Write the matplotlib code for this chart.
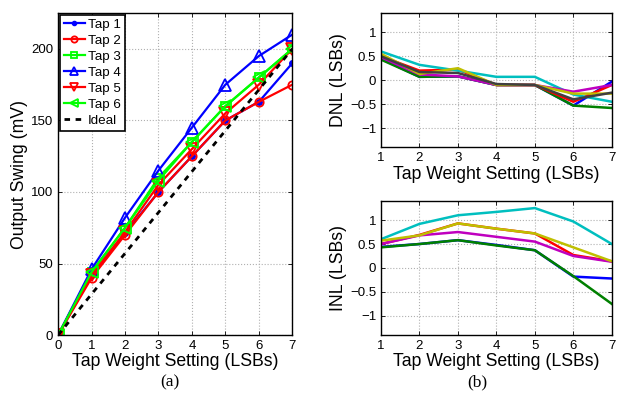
import matplotlib
matplotlib.use("Agg")
import matplotlib.pyplot as plt
import numpy as np

plt.rcParams['font.family'] = ['Liberation Sans', 'DejaVu Sans']
plt.rcParams['axes.unicode_minus'] = True

# Output swing vs tap weight setting (panel a)
taps = [0, 1, 2, 3, 4, 5, 6, 7]
tap1 = [0, 42, 71, 100, 125, 150, 163, 190]
tap2 = [0, 40, 70, 100, 125, 150, 163, 175]
tap3 = [0, 44, 75, 110, 135, 160, 180, 200]
tap4 = [0, 46, 82, 115, 145, 175, 195, 210]
tap5 = [0, 42, 72, 105, 130, 155, 175, 200]
tap6 = [0, 44, 75, 108, 135, 160, 180, 200]
ideal = [0, 28.6, 57.1, 85.7, 114.3, 142.9, 171.4, 200]

# DNL / INL (panel b)
settings = [1, 2, 3, 4, 5, 6, 7]
dnl = [
    [0.45, 0.07, 0.08, -0.10, -0.10, -0.53, -0.03],   # blue
    [0.43, 0.07, 0.08, -0.10, -0.10, -0.53, -0.58],   # green
    [0.50, 0.20, 0.22, -0.10, -0.10, -0.45, -0.10],   # red
    [0.60, 0.32, 0.20, 0.07, 0.07, -0.30, -0.45],     # cyan
    [0.48, 0.12, 0.08, -0.10, -0.10, -0.24, -0.10],   # magenta
    [0.55, 0.13, 0.25, -0.10, -0.10, -0.28, -0.28],   # yellow
    [0.50, 0.17, 0.15, -0.08, -0.10, -0.40, -0.26],   # gray
]
inl = [
    [0.44, 0.50, 0.58, 0.48, 0.37, -0.18, -0.22],     # blue
    [0.43, 0.50, 0.58, 0.47, 0.37, -0.17, -0.75],     # green
    [0.50, 0.69, 0.93, 0.82, 0.72, 0.27, 0.14],       # red
    [0.60, 0.92, 1.10, 1.17, 1.25, 0.97, 0.50],       # cyan
    [0.50, 0.68, 0.75, 0.65, 0.55, 0.25, 0.13],       # magenta
    [0.57, 0.68, 0.93, 0.82, 0.72, 0.43, 0.14],       # yellow
]
line_colors = [(0, 0, 1), (0, 0.5, 0), (1, 0, 0), (0, 0.75, 0.75),
               (0.75, 0, 0.75), (0.75, 0.75, 0), (0.25, 0.25, 0.25)]

fig = plt.figure(figsize=(6.18, 3.97), dpi=100)
label_size = 12.7


def style_axes(ax):
    ax.grid(True, linestyle=':', color='#b0b0b0', linewidth=0.8)
    ax.tick_params(direction='in', top=True, right=True, labelsize=9.5,
                   length=3, width=0.6)
    for s in ax.spines.values():
        s.set_linewidth(1.0)


# Panel (a)
ax1 = fig.add_axes([0.094, 0.156, 0.379, 0.811])
lw = 1.6
ax1.plot(taps, tap1, '-', color='b', marker='.', markersize=8, lw=lw, label='Tap 1')
ax1.plot(taps, tap2, '-', color='r', marker='o', mfc='none', markersize=6, mew=1.3, lw=lw, label='Tap 2')
ax1.plot(taps, tap3, '-', color=(0, 1, 0), marker='s', mfc='none', markersize=6, mew=1.3, lw=lw, label='Tap 3')
ax1.plot(taps, tap4, '-', color='b', marker='^', mfc='none', markersize=8, mew=1.3, lw=lw, label='Tap 4')
ax1.plot(taps, tap5, '-', color='r', marker='v', mfc='none', markersize=8, mew=1.3, lw=lw, label='Tap 5')
ax1.plot(taps, tap6, '-', color=(0, 1, 0), marker='<', mfc='none', markersize=8, mew=1.3, lw=lw, label='Tap 6')
ax1.plot(taps, ideal, '--', color='k', lw=2, dashes=(2, 2), label='Ideal')
ax1.set_xlim(0, 7)
ax1.set_ylim(0, 225)
ax1.set_xticks(taps)
ax1.set_yticks([0, 50, 100, 150, 200])
style_axes(ax1)
ax1.set_xlabel('Tap Weight Setting (LSBs)', fontsize=label_size, labelpad=1)
ax1.set_ylabel('Output Swing (mV)', fontsize=label_size, labelpad=2)
leg = ax1.legend(loc='upper left', fontsize=9.6, fancybox=False, edgecolor='k',
                 framealpha=1, handlelength=1.6, handletextpad=0.2,
                 borderaxespad=0.12, labelspacing=0.27, borderpad=0.3,
                 markerscale=0.75)
leg.get_frame().set_linewidth(1.2)

# Panel (b) top: DNL
ax2 = fig.add_axes([0.6165, 0.629, 0.3735, 0.338])
for row, c in zip(dnl, line_colors):
    ax2.plot(settings, row, color=c, lw=1.8)
ax2.set_xlim(1, 7)
ax2.set_ylim(-1.4, 1.4)
ax2.set_xticks(settings)
ax2.set_yticks([-1, -0.5, 0, 0.5, 1])
ax2.set_yticklabels(['\u22121', '\u22120.5', '0', '0.5', '1'])
style_axes(ax2)
ax2.set_xlabel('Tap Weight Setting (LSBs)', fontsize=label_size, labelpad=1)
ax2.set_ylabel('DNL (LSBs)', fontsize=label_size, labelpad=2)

# Panel (b) bottom: INL
ax3 = fig.add_axes([0.6165, 0.156, 0.3735, 0.338])
for row, c in zip(inl, line_colors):
    ax3.plot(settings, row, color=c, lw=1.8)
ax3.set_xlim(1, 7)
ax3.set_ylim(-1.4, 1.4)
ax3.set_xticks(settings)
ax3.set_yticks([-1, -0.5, 0, 0.5, 1])
ax3.set_yticklabels(['\u22121', '\u22120.5', '0', '0.5', '1'])
style_axes(ax3)
ax3.set_xlabel('Tap Weight Setting (LSBs)', fontsize=label_size, labelpad=1)
ax3.set_ylabel('INL (LSBs)', fontsize=label_size, labelpad=2)

fig.text(0.275, 0.038, '(a)', ha='center', va='center', fontsize=12.5,
         family=['Liberation Serif', 'DejaVu Serif'])
fig.text(0.772, 0.038, '(b)', ha='center', va='center', fontsize=12.5,
         family=['Liberation Serif', 'DejaVu Serif'])

fig.savefig('out.png', dpi=100)
